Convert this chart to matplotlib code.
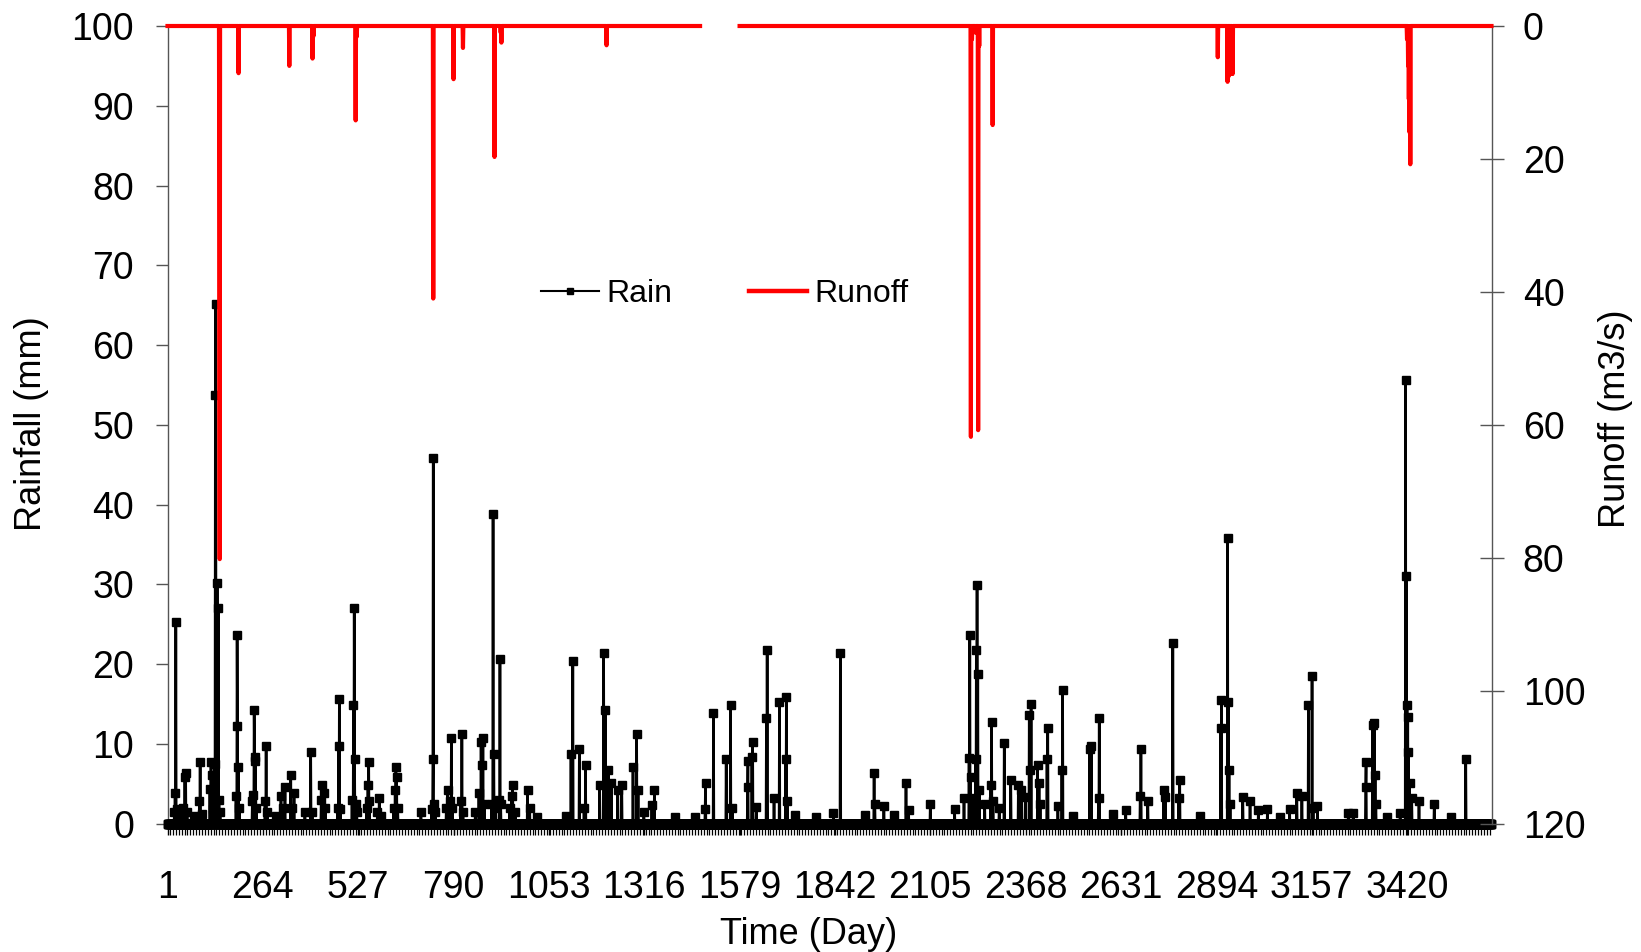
import matplotlib
matplotlib.use("Agg")
import matplotlib.pyplot as plt
import numpy as np
from matplotlib.lines import Line2D
from matplotlib.ticker import MultipleLocator

plt.rcParams['font.family'] = ['Liberation Sans', 'DejaVu Sans']

# ---------------- data ----------------
N_DAYS = 3653
x_tick_labels = [1, 264, 527, 790, 1053, 1316, 1579, 1842, 2105, 2368, 2631, 2894, 3157, 3420]
rain_ticks = [0, 10, 20, 30, 40, 50, 60, 70, 80, 90, 100]
runoff_ticks = [0, 20, 40, 60, 80, 100, 120]

# daily rainfall (mm): (day, value) for rain days, all other days 0
rain_events = [
    (20, 1.5), (22, 3.8), (24, 25.3), (26, 1.9), (30, 1.2),
    (45, 2.0), (49, 5.9), (51, 6.4), (55, 1.5),
    (75, 1.0), (89, 2.9), (91, 7.7), (95, 1.2),
    (118, 4.3), (121, 7.7), (124, 6.1), (127, 1.8),
    (131, 7.5), (133, 53.7), (134, 65.1), (138, 30.2), (141, 27.0), (143, 3.0), (146, 1.5),
    (190, 3.5), (193, 23.7), (194, 12.3), (196, 7.1), (199, 2.0),
    (235, 2.8), (238, 3.6), (240, 14.2), (241, 8.4), (243, 7.8), (246, 2.0),
    (270, 2.9), (273, 9.7), (276, 1.5),
    (300, 1.0), (314, 3.5), (320, 2.0), (325, 4.6), (341, 6.1), (345, 2.0), (350, 3.9),
    (380, 1.5), (396, 9.0), (400, 1.5),
    (425, 3.0), (428, 4.8), (432, 3.9), (436, 2.0),
    (470, 2.0), (473, 9.7), (475, 15.6), (478, 1.9),
    (510, 3.0), (514, 14.9), (516, 27.0), (517, 8.1), (520, 2.5), (523, 1.5),
    (550, 2.0), (554, 4.8), (556, 7.7), (558, 2.9),
    (580, 1.5), (585, 3.2), (590, 1.0),
    (625, 2.0), (629, 4.2), (631, 7.1), (633, 5.8), (636, 2.0),
    (700, 1.5),
    (730, 1.9), (733, 8.1), (734, 45.8), (737, 2.5), (740, 1.5),
    (770, 2.0), (774, 4.2), (779, 2.9), (784, 10.7), (787, 2.0),
    (810, 2.9), (813, 11.3), (816, 1.5),
    (850, 1.5), (860, 3.8), (866, 10.3), (869, 7.4), (871, 10.7), (875, 2.5),
    (895, 2.5), (899, 38.8), (901, 8.7), (905, 2.0), (916, 3.0), (918, 20.7), (920, 2.5),
    (945, 2.0), (950, 3.5), (953, 4.8), (960, 1.5), (994, 4.2), (1000, 2.0), (1019, 0.8),
    (1100, 1.0), (1114, 8.7), (1119, 20.4), (1137, 9.4), (1150, 2.0), (1154, 7.4),
    (1193, 4.8), (1204, 21.4), (1209, 14.2), (1217, 6.7), (1225, 5.1), (1243, 4.2), (1254, 4.8),
    (1285, 7.1), (1295, 11.3), (1299, 4.2), (1315, 1.5), (1337, 2.3), (1344, 4.2),
    (1400, 0.8), (1457, 0.9), (1484, 1.9), (1485, 5.1), (1507, 13.9),
    (1542, 8.1), (1554, 14.9), (1559, 2.0),
    (1601, 4.6), (1602, 7.8), (1613, 8.4), (1615, 10.3), (1625, 2.1),
    (1653, 13.3), (1655, 21.8), (1674, 3.2), (1689, 15.2), (1706, 8.1), (1708, 15.9), (1711, 2.9), (1731, 1.1),
    (1790, 0.8), (1838, 1.3), (1857, 21.4),
    (1924, 1.1), (1950, 6.4), (1952, 2.5), (1977, 2.2), (2006, 1.1),
    (2038, 5.1), (2045, 1.7), (2105, 2.5), (2172, 1.9),
    (2198, 3.2), (2212, 8.2), (2214, 23.7), (2216, 5.8), (2225, 3.2), (2230, 8.1), (2232, 21.8),
    (2234, 29.9), (2236, 18.8), (2240, 4.2),
    (2255, 2.5), (2272, 4.8), (2274, 12.7), (2278, 2.9),
    (2295, 2.0), (2309, 10.1), (2327, 5.5), (2348, 4.8), (2356, 4.2), (2367, 3.4), (2378, 13.6),
    (2381, 6.7), (2383, 15.0), (2401, 7.4), (2405, 5.1), (2408, 2.5),
    (2427, 8.1), (2429, 12.0), (2457, 2.2), (2468, 6.7), (2470, 16.8),
    (2500, 1.0), (2545, 9.4), (2549, 9.7), (2569, 3.2), (2571, 13.3),
    (2610, 1.2), (2644, 1.7), (2684, 3.5), (2686, 9.4), (2705, 2.9),
    (2749, 4.2), (2753, 3.3), (2774, 22.7), (2790, 3.2), (2793, 5.5),
    (2850, 1.0), (2906, 12.0), (2908, 15.5), (2925, 35.8), (2927, 15.3), (2929, 6.7), (2932, 2.5),
    (2967, 3.4), (2987, 2.9), (3010, 1.7), (3035, 1.9), (3070, 0.9), (3096, 1.9), (3116, 3.9),
    (3130, 3.5), (3148, 14.9), (3158, 18.5), (3161, 2.0), (3173, 2.2),
    (3258, 1.3), (3272, 1.3), (3306, 4.6), (3307, 7.7), (3325, 12.4), (3330, 12.6), (3332, 6.1), (3334, 2.5),
    (3366, 0.9), (3401, 1.3), (3416, 55.6), (3418, 31.0), (3420, 14.9), (3422, 13.4), (3424, 9.0),
    (3427, 5.1), (3433, 3.2), (3453, 2.9), (3495, 2.5),
    (3540, 0.8), (3582, 8.1),
]

# daily runoff (m3/s): (day, value) for runoff days, all other days 0
runoff_events = [
    (144, 32.0), (145, 80.2), (197, 7.1), (337, 6.0), (401, 4.9), (404, 1.5),
    (520, 14.2), (523, 1.6), (734, 41.0), (790, 8.0), (816, 3.3), (903, 19.7),
    (920, 1.0), (922, 2.5), (1212, 2.9),
    (2217, 61.8), (2220, 2.0), (2230, 1.0), (2237, 60.8), (2240, 3.0), (2277, 14.9),
    (2898, 4.7), (2925, 8.4), (2929, 7.5), (2933, 7.0), (2937, 7.2), (2939, 7.2),
    (3420, 2.0), (3423, 6.0), (3425, 11.0), (3427, 16.0), (3429, 20.8),
]
runoff_missing = (1471, 1578)   # days without runoff record

# ---------------- build daily series ----------------
days = np.arange(1, N_DAYS + 1)
rain = np.zeros(N_DAYS)
for d, v in rain_events:
    rain[d - 1] = v
runoff = np.zeros(N_DAYS)
for d, v in runoff_events:
    runoff[d - 1] = v
runoff[runoff_missing[0] - 1:runoff_missing[1]] = np.nan

# ---------------- figure ----------------
W, H = 1641, 952
fig = plt.figure(figsize=(W / 100, H / 100), dpi=100)
L, R, T, B = 167.5, 1491.5, 26.0, 823.7
ax = fig.add_axes([L / W, 1 - B / H, (R - L) / W, (B - T) / H])

ax.plot(days, rain, color='black', lw=1.9, marker='s', ms=5.3,
        mfc='black', mec='black', clip_on=False, zorder=3)
ax.set_xlim(1, N_DAYS)
ax.set_ylim(0, 100)

ax2 = ax.twinx()
ax2.plot(days, runoff, color='#ff0000', lw=3.0, clip_on=False, zorder=4)
ax2.set_ylim(120, 0)

axis_gray = '#555555'
for a in (ax, ax2):
    a.spines['top'].set_visible(False)
ax.spines['right'].set_visible(False)
ax2.spines['left'].set_visible(False)
ax2.spines['bottom'].set_visible(False)
ax.spines['left'].set_color(axis_gray)
ax.spines['left'].set_linewidth(1.0)
ax.spines['bottom'].set_color('black')
ax2.spines['right'].set_color(axis_gray)
ax2.spines['right'].set_linewidth(1.0)

fs_tick = 27
ax.set_yticks(rain_ticks)
ax.tick_params(axis='y', direction='out', length=8.6, width=1.0, color=axis_gray,
               labelsize=fs_tick, pad=15.5)
ax.set_xticks(x_tick_labels)
ax.set_xticklabels([str(v) for v in x_tick_labels])
ax.xaxis.set_minor_locator(MultipleLocator(8))
ax.tick_params(axis='x', which='major', direction='out', length=8, width=1.0, color='black',
               labelsize=fs_tick, pad=25)
ax.tick_params(axis='x', which='minor', direction='out', length=8, width=0.9, color='black')

ax2.set_yticks(runoff_ticks)
ax2.tick_params(axis='y', direction='inout', length=17, width=1.0, color=axis_gray,
                labelsize=fs_tick, pad=14)

fs_lab = 26
ax.set_ylabel('Rainfall (mm)', fontsize=fs_lab)
ax.yaxis.label.set_va('center')
ax.yaxis.set_label_coords((31 - L) / (R - L), (B - 424) / (B - T))
ax2.set_ylabel('Runoff (m3/s)', fontsize=fs_lab, rotation=90)
ax2.yaxis.label.set_va('center')
ax2.yaxis.set_label_coords((1615 - L) / (R - L), (B - 419) / (B - T))
ax.set_xlabel('Time (Day)', fontsize=fs_lab)
ax.xaxis.label.set_va('center')
ax.xaxis.set_label_coords((809 - L) / (R - L), -(934 - B) / (B - T))

handles = [Line2D([], [], color='black', lw=1.5, marker='s', ms=4.5),
           Line2D([], [], color='#ff0000', lw=3.2)]
fig.legend(handles, ['Rain', 'Runoff'], loc='center left',
           bbox_to_anchor=(541 / W, 1 - 294 / H), ncol=2, frameon=False,
           fontsize=23, handlelength=1.8, handletextpad=0.25,
           columnspacing=2.4, borderpad=0, borderaxespad=0)

fig.savefig('out.png', dpi=100)
